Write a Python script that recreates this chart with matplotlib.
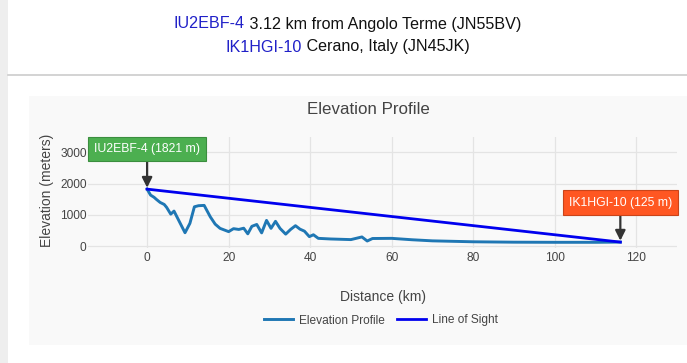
import matplotlib
matplotlib.use("Agg")
import matplotlib.pyplot as plt
from matplotlib.patches import Rectangle
from matplotlib.lines import Line2D

# elevation profile (km, metres)
profile_km = [0, 0.85, 1.7, 2.3, 3.2, 4.2, 4.8, 5.8, 6.6, 9.3, 10.5, 11.6, 12.6, 14.0,
              15.5, 16.7, 17.9, 20.0, 21.2, 22.5, 23.7, 24.7, 25.7, 26.9, 28.1, 29.3,
              30.4, 31.5, 32.6, 34.0, 35.2, 36.4, 37.5, 38.6, 39.8, 40.8, 42.0, 45.0,
              50.0, 52.7, 54.0, 55.3, 60.0, 65.0, 70.0, 80.0, 90.0, 100.0, 110.0, 116.1]
profile_elev = [1821, 1630, 1560, 1490, 1395, 1330, 1235, 1020, 1118, 425, 725, 1255, 1290, 1300,
                935, 700, 565, 460, 555, 530, 570, 390, 630, 690, 420, 820,
                565, 790, 565, 380, 530, 650, 540, 475, 300, 360, 245, 225,
                205, 290, 160, 240, 245, 200, 165, 135, 122, 118, 118, 125]

los_km = [0, 116.1]
los_elev = [1821, 125]

x_ticks = [0, 20, 40, 60, 80, 100, 120]
y_ticks = [0, 1000, 2000, 3000]

src_call = "IU2EBF-4"
src_desc = " 3.12 km from Angolo Terme (JN55BV)"
dst_call = "IK1HGI-10"
dst_desc = " Cerano, Italy (JN45JK)"

W, H = 687, 363
plt.rcParams['font.family'] = ['Liberation Sans', 'DejaVu Sans']

fig = plt.figure(figsize=(W / 100, H / 100), dpi=100)
fig.patch.set_facecolor('white')


def fx(px):
    return px / W


def fy(py):
    return 1 - py / H


# page decoration: left strip, separator, chart panel (kept behind the axes)
fig.patches.append(Rectangle((0, 0), fx(8), 1, transform=fig.transFigure,
                             facecolor='#eeeeee', edgecolor='none', zorder=-5))
fig.add_artist(Line2D([fx(8), 1], [fy(75), fy(75)], color='#cccccc', lw=1.2, zorder=-4))
fig.patches.append(Rectangle((fx(29), fy(345)), 1 - fx(29), fy(96) - fy(345),
                             transform=fig.transFigure, facecolor='#f9f9f9',
                             edgecolor='none', zorder=-5))

# header lines with coloured callsigns
renderer = fig.canvas.get_renderer()
for call, desc, ypx in [(src_call, src_desc, 24), (dst_call, dst_desc, 47)]:
    t1 = fig.text(0, fy(ypx), call, color='#2020c8', fontsize=11.6, va='center')
    t2 = fig.text(0, fy(ypx), desc, color='#111111', fontsize=11.6, va='center')
    w1 = t1.get_window_extent(renderer).width
    w2 = t2.get_window_extent(renderer).width
    start = 347.5 - (w1 + w2) / 2
    t1.set_x(fx(start))
    t2.set_x(fx(start + w1))

ax = fig.add_axes([fx(88), fy(248), fx(677) - fx(88), fy(137) - fy(248)])
ax.set_zorder(2)
ax.set_facecolor('#f9f9f9')
ax.plot(profile_km, profile_elev, color='#1f77b4', lw=2.1, label='Elevation Profile', zorder=3)
ax.plot(los_km, los_elev, color='#0000ee', lw=2, label='Line of Sight', zorder=4)

ax.set_xlim(-14.5, 130)
ax.set_ylim(-64, 3490)
ax.set_xticks(x_ticks)
ax.set_yticks(y_ticks)
ax.grid(True, color='#e4e4e4', lw=0.9)
ax.set_axisbelow(True)
for s in ax.spines.values():
    s.set_visible(False)
ax.tick_params(length=0, labelsize=8.6, labelcolor='#444444')
ax.tick_params(axis='x', pad=3)
ax.tick_params(axis='y', pad=1)

# station annotations
ax.annotate(f"{src_call} (1821 m)", xy=(los_km[0], los_elev[0]), xytext=(0, 40),
            textcoords='offset pixels', ha='center', va='center', color='white', fontsize=8.8,
            bbox=dict(boxstyle='square,pad=0.5', facecolor='#4caf50', edgecolor='#3b8e3f', lw=0.8),
            arrowprops=dict(arrowstyle='-|>', color='#333333', lw=1.6, mutation_scale=15,
                            shrinkA=0, shrinkB=1), zorder=6, annotation_clip=False)
ax.annotate(f"{dst_call} (125 m)", xy=(los_km[1], los_elev[1]), xytext=(0, 39.5),
            textcoords='offset pixels', ha='center', va='center', color='white', fontsize=8.8,
            bbox=dict(boxstyle='square,pad=0.5', facecolor='#ff5722', edgecolor='#c9441a', lw=0.8),
            arrowprops=dict(arrowstyle='-|>', color='#333333', lw=1.6, mutation_scale=15,
                            shrinkA=0, shrinkB=1), zorder=6, annotation_clip=False)

fig.text(fx(368), fy(110), "Elevation Profile", fontsize=12.2, color='#444444',
         ha='center', va='center')
fig.text(fx(382.5), fy(297), "Distance (km)", fontsize=10, color='#444444',
         ha='center', va='center')
fig.text(fx(47), fy(190), "Elevation (meters)", fontsize=10, color='#444444',
         ha='center', va='center', rotation=90)

fig.legend(loc='center', bbox_to_anchor=(fx(381), fy(320.5)), ncol=2, frameon=False,
           fontsize=8.6, handlelength=2.4, handletextpad=0.5, columnspacing=1.05,
           labelcolor='#444444')

fig.savefig('out.png', dpi=100)
